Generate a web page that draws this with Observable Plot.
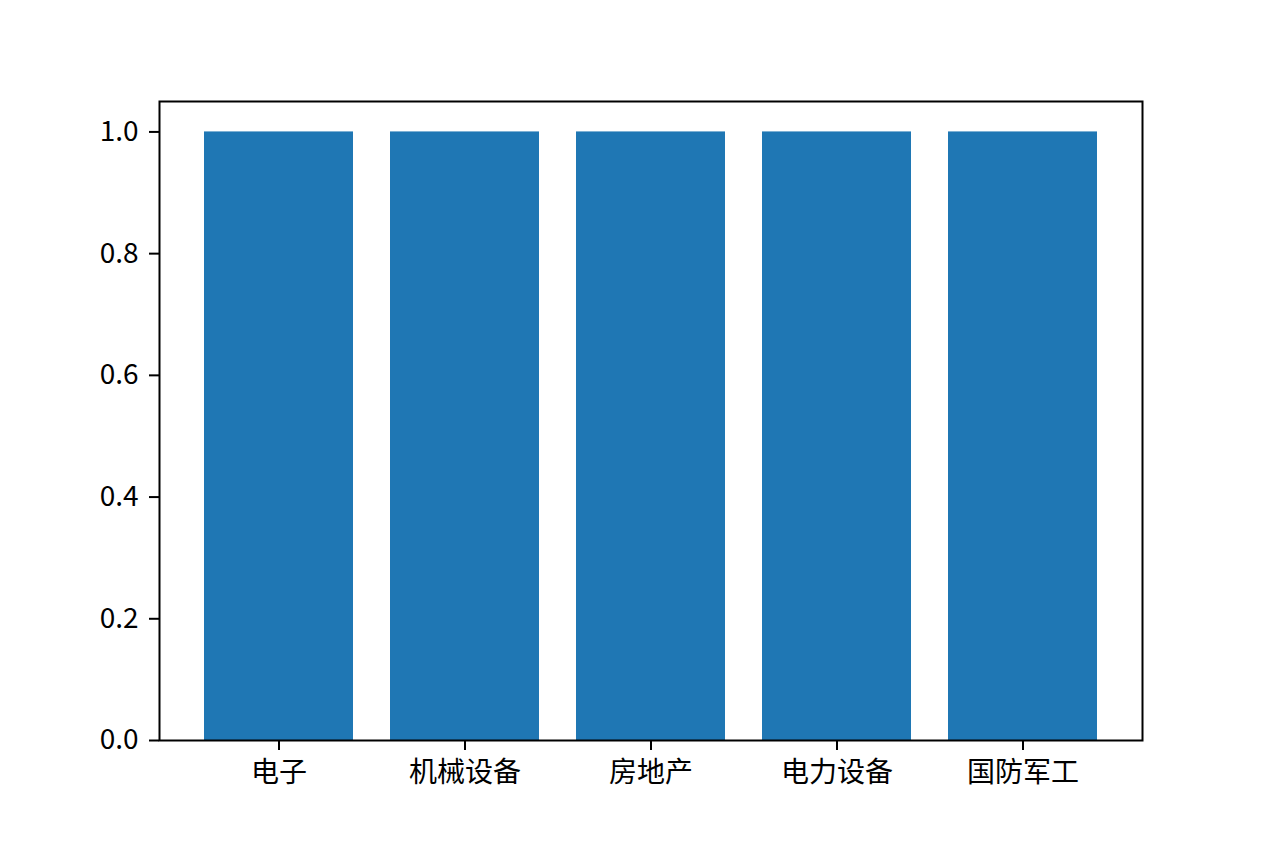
<!DOCTYPE html>
<html><head><meta charset="utf-8">
<script src="https://cdn.jsdelivr.net/npm/d3@7"></script>
<script src="https://cdn.jsdelivr.net/npm/@observablehq/plot@0.6"></script>
<style>body{margin:0;background:#fff;} svg{display:block;}</style>
</head><body><div id="chart"></div>
<script>
const categories = ["电子", "机械设备", "房地产", "电力设备", "国防军工"];
const values = [1, 1, 1, 1, 1];
const yTicks = [0, 0.2, 0.4, 0.6, 0.8, 1.0];
const data = categories.map((c, i) => ({category: c, value: values[i]}));
const font = "'Noto Sans CJK SC', sans-serif";
const chart = Plot.plot({
  width: 1269, height: 846,
  marginLeft: 159, marginRight: 127, marginTop: 101, marginBottom: 106,
  style: {fontFamily: font, fontSize: "28px", color: "#000", background: "#fff"},
  x: {domain: categories, paddingInner: 0.2, paddingOuter: 0.24, label: null},
  y: {domain: [0, 1.05], label: null},
  marks: [
    Plot.barY(data, {x: "category", y: "value", fill: "#1f77b4"}),
    Plot.axisY({ticks: yTicks, tickFormat: d => d.toFixed(1), tickSize: 10, tickPadding: 11, strokeWidth: 2, label: null, fontSize: 28}),
    Plot.axisX({tickSize: 10, tickPadding: 12, strokeWidth: 2, label: null, fontSize: 28}),
    Plot.frame({stroke: "#000", strokeWidth: 2})
  ]
});
document.getElementById("chart").appendChild(chart);
</script></body></html>
